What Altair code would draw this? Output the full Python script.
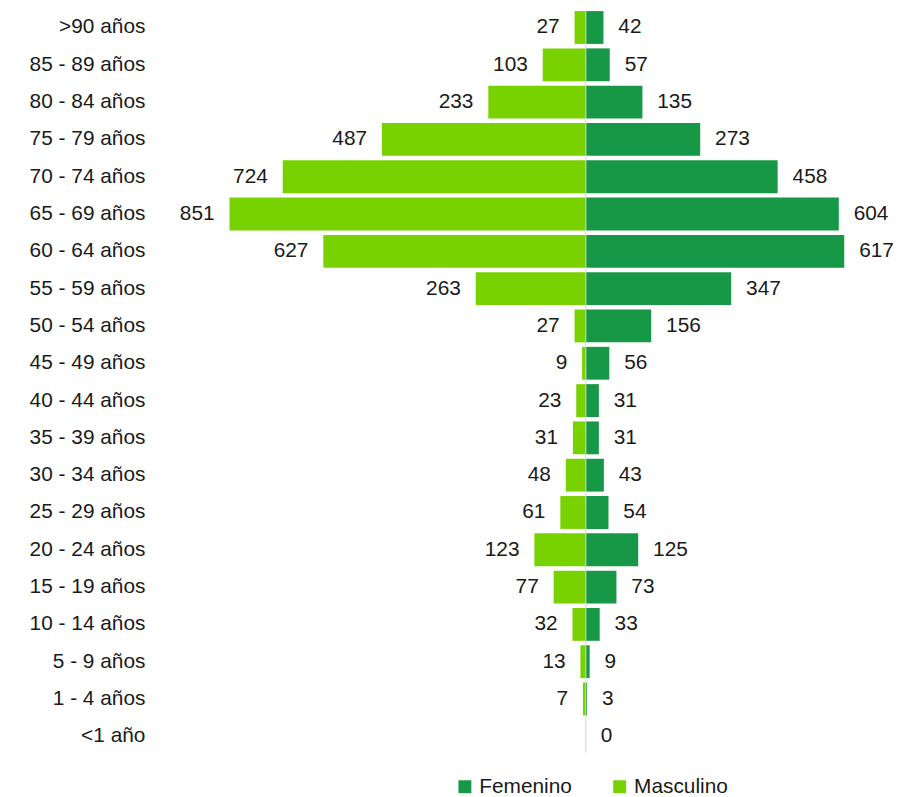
import altair as alt
import pandas as pd

ages = [">90 años", "85 - 89 años", "80 - 84 años", "75 - 79 años", "70 - 74 años",
        "65 - 69 años", "60 - 64 años", "55 - 59 años", "50 - 54 años", "45 - 49 años",
        "40 - 44 años", "35 - 39 años", "30 - 34 años", "25 - 29 años", "20 - 24 años",
        "15 - 19 años", "10 - 14 años", "5 - 9 años", "1 - 4 años", "<1 año"]
masculino = [27, 103, 233, 487, 724, 851, 627, 263, 27, 9, 23, 31, 48, 61, 123, 77, 32, 13, 7, None]
femenino = [42, 57, 135, 273, 458, 604, 617, 347, 156, 56, 31, 31, 43, 54, 125, 73, 33, 9, 3, 0]

DARK = "#179846"
LIGHT = "#78d200"

rows = []
for a, m, f in zip(ages, masculino, femenino):
    if m is not None:
        rows.append({"edad": a, "sexo": "Masculino", "valor": m, "signed": -m})
    rows.append({"edad": a, "sexo": "Femenino", "valor": f, "signed": f})
df = pd.DataFrame(rows)

base = alt.Chart(df)

yenc = alt.Y("edad:N", sort=ages,
             scale=alt.Scale(paddingInner=0.12, paddingOuter=0),
             axis=alt.Axis(title=None, domain=False, ticks=False, labelPadding=19,
                           labelFontSize=21, labelColor="#1a1a1a", labelFont="Liberation Sans"))
xscale = alt.Scale(domain=[-1008, 721.6], nice=False, zero=True)

bars = base.mark_bar().encode(
    y=yenc,
    x=alt.X("signed:Q", scale=xscale, axis=None),
    color=alt.Color("sexo:N",
                    scale=alt.Scale(domain=["Femenino", "Masculino"], range=[DARK, LIGHT]),
                    legend=alt.Legend(orient="none", legendX=293, legendY=771,
                                      direction="horizontal", title=None,
                                      symbolType="square", symbolSize=169,
                                      symbolStrokeWidth=0, labelFontSize=21,
                                      labelFont="Liberation Sans", labelColor="#1a1a1a",
                                      columnPadding=37, labelOffset=4, padding=0)),
)

txt_m = base.transform_filter(alt.datum.sexo == "Masculino").mark_text(
    align="right", baseline="middle", dx=-15, fontSize=21, font="Liberation Sans", color="#1a1a1a"
).encode(y=alt.Y("edad:N", sort=ages), x=alt.X("signed:Q", scale=xscale), text="valor:Q")

txt_f = base.transform_filter(alt.datum.sexo == "Femenino").mark_text(
    align="left", baseline="middle", dx=15, fontSize=21, font="Liberation Sans", color="#1a1a1a"
).encode(y=alt.Y("edad:N", sort=ages), x=alt.X("signed:Q", scale=xscale), text="valor:Q")

rule = alt.Chart(pd.DataFrame({"x": [0]})).mark_rule(color="#d4d4d4", strokeWidth=1).encode(
    x=alt.X("x:Q", scale=xscale)
)

chart = alt.layer(bars, rule, txt_m, txt_f).properties(
    width=730, height=747.5,
    autosize=alt.AutoSizeParams(type="none"),
    padding={"left": 157, "top": 0, "right": 6, "bottom": 40},
).configure_view(stroke=None)

chart.save("out.html", embed_options={"renderer": "svg", "actions": False})
